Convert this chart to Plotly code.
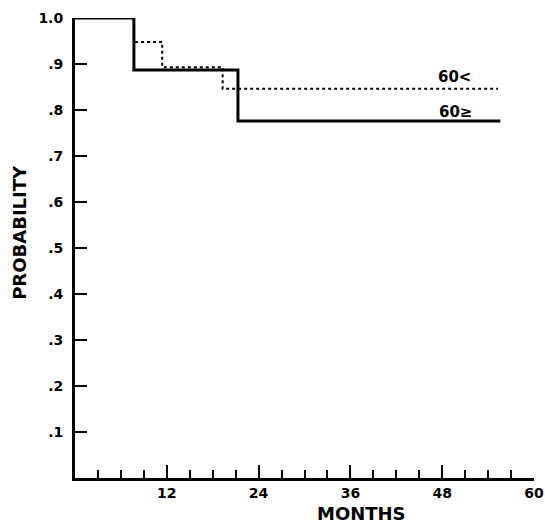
import plotly.graph_objects as go

# Survival curves (step functions)
months_young = [0, 7.7, 11.4, 19.3, 55.3]      # 60<
prob_young = [1.0, 0.948, 0.893, 0.846, 0.846]
months_old = [0, 7.7, 21.3, 55.6]              # 60>=
prob_old = [1.0, 0.887, 0.776, 0.776]

x_major_ticks = [12, 24, 36, 48, 60]
x_major_labels = ["12", "24", "36", "48", "60"]
x_minor_ticks = [3, 6, 9, 12, 15, 18, 21, 24, 27, 30, 33, 36, 39, 42, 45, 48, 51, 54, 57, 60]
y_ticks = [0.1, 0.2, 0.3, 0.4, 0.5, 0.6, 0.7, 0.8, 0.9, 1.0]
y_tick_labels = [".1", ".2", ".3", ".4", ".5", ".6", ".7", ".8", ".9", "1.0"]

FONT = "DejaVu Sans, Liberation Sans, Arial, sans-serif"

minor_text = [x_major_labels[x_major_ticks.index(v)] if v in x_major_ticks else ""
              for v in x_minor_ticks]

fig = go.Figure()
fig.add_trace(go.Scatter(
    x=months_young, y=prob_young, mode="lines", line_shape="hv",
    line=dict(color="black", width=2, dash="dot"), showlegend=False))
fig.add_trace(go.Scatter(
    x=months_old, y=prob_old, mode="lines", line_shape="hv", xaxis="x2",
    line=dict(color="black", width=3), showlegend=False))

fig.add_annotation(x=47.2, y=0.872, xref="x", yref="y", text="60<",
                   showarrow=False, xanchor="left", yanchor="middle",
                   font=dict(family=FONT, size=15, color="black", weight="bold"))
fig.add_annotation(x=47.3, y=0.795, xref="x", yref="y", text="60≥",
                   showarrow=False, xanchor="left", yanchor="middle",
                   font=dict(family=FONT, size=15, color="black", weight="bold"))
fig.add_annotation(x=37.4, y=-0.078, xref="x", yref="paper", text="MONTHS",
                   showarrow=False, xanchor="center", yanchor="middle",
                   font=dict(family=FONT, size=18, color="black", weight="bold"))
fig.add_annotation(x=-0.12, y=0.535, xref="paper", yref="paper", text="PROBABILITY",
                   showarrow=False, textangle=-90, xanchor="center", yanchor="middle",
                   font=dict(family=FONT, size=18, color="black", weight="bold"))

fig.update_layout(
    width=545, height=524,
    margin=dict(l=75, r=11, t=18, b=46, autoexpand=False),
    paper_bgcolor="white", plot_bgcolor="white",
    font=dict(family=FONT, color="black"),
    xaxis=dict(
        range=[0, 60], tickmode="array", tickvals=x_minor_ticks, ticktext=minor_text,
        ticks="inside", ticklen=8, tickwidth=2, tickcolor="black",
        showline=True, linewidth=3, linecolor="black",
        showgrid=False, zeroline=False, automargin=False,
        tickfont=dict(family=FONT, size=14, color="black", weight="bold"),
        ticklabelstandoff=0,
    ),
    xaxis2=dict(
        range=[0, 60], overlaying="x", anchor="y", side="bottom",
        tickmode="array", tickvals=x_major_ticks, ticktext=x_major_labels,
        showticklabels=False,
        ticks="inside", ticklen=13, tickwidth=2, tickcolor="black",
        showline=False, showgrid=False, zeroline=False, automargin=False,
    ),
    yaxis=dict(
        range=[0, 1.0], tickmode="array", tickvals=y_ticks, ticktext=y_tick_labels,
        ticks="inside", ticklen=12, tickwidth=2, tickcolor="black",
        showline=True, linewidth=3, linecolor="black",
        showgrid=False, zeroline=False, automargin=False,
        tickfont=dict(family=FONT, size=14, color="black", weight="bold"),
        ticklabelstandoff=6,
    ),
)

fig.write_html(
    "out.html",
    config={"displayModeBar": False},
    post_script="document.body.style.margin='0';document.body.style.overflow='hidden';",
)
